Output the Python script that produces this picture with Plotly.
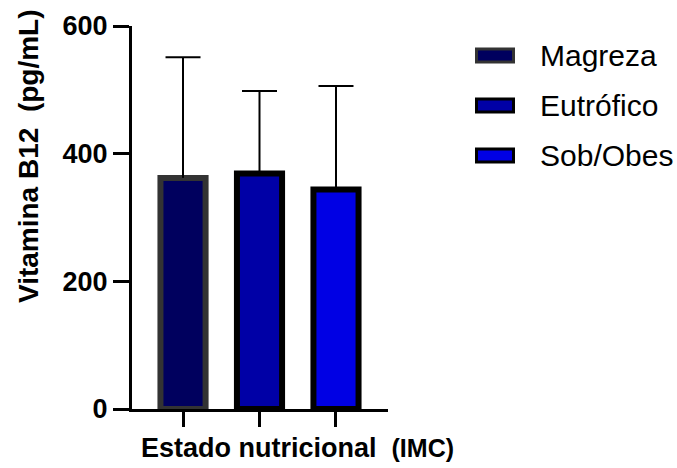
import plotly.graph_objects as go

# Vitamin B12 by nutritional status (mean + SD)
groups = ["Magreza", "Eutrófico", "Sob/Obes"]
means = [362, 369, 344]
sds = [189, 129, 162]

fills = ["#00005e", "#0000a6", "#0000e4"]
edges = ["#333333", "#000000", "#000000"]

FONT = "Arial, Liberation Sans, sans-serif"
W, H = 677, 468
L, R, T, B = 132, 289, 26, 59
pw, ph = W - L - R, H - T - B

fig = go.Figure()
for g, m, s, fc, ec in zip(groups, means, sds, fills, edges):
    # upward-only SD whisker; cap is drawn separately below
    fig.add_trace(go.Bar(
        x=[g], y=[m], name=g, width=0.59,
        marker=dict(color=fc, line=dict(color=ec, width=6)),
        error_y=dict(type="data", array=[s], arrayminus=[0], symmetric=False,
                     thickness=2, width=0, color="black"),
        showlegend=False,
    ))

# whisker caps at mean + SD
fig.add_trace(go.Scatter(
    x=groups, y=[m + s for m, s in zip(means, sds)], mode="markers",
    marker=dict(symbol="line-ew", size=25, line=dict(color="black", width=2)),
    showlegend=False, hoverinfo="skip",
))

# legend swatches and labels
def px_x(v):
    return (v - L) / pw

def px_y(v):
    return (H - B - v) / ph

for i, (g, fc, ec) in enumerate(zip(groups, fills, edges)):
    cy = 55.5 + i * 50
    fig.add_shape(type="rect", xref="paper", yref="paper",
                  x0=px_x(476.5), x1=px_x(513.5), y0=px_y(cy - 6.5), y1=px_y(cy + 6.5),
                  fillcolor=fc, line=dict(color=ec, width=3))
    fig.add_annotation(text=g, xref="paper", yref="paper", x=px_x(538), y=px_y(cy),
                       xanchor="left", yanchor="middle", showarrow=False,
                       font=dict(family=FONT, size=30, color="black"))

# axis titles
fig.add_annotation(text="Vitamina B12  (pg/mL)", xref="paper", yref="paper",
                   x=px_x(28), y=px_y(156), textangle=-90, showarrow=False,
                   xanchor="center", yanchor="middle",
                   font=dict(family=FONT, size=28, color="black", weight="bold"))
fig.add_annotation(text="Estado nutricional  <span style='font-size:25px'>(IMC)</span>",
                   xref="paper", yref="paper", x=px_x(297.5), y=px_y(448),
                   showarrow=False, xanchor="center", yanchor="middle",
                   font=dict(family=FONT, size=27, color="black", weight="bold"))

fig.update_layout(
    width=W, height=H,
    margin=dict(l=L, r=R, t=T, b=B, pad=0),
    paper_bgcolor="white", plot_bgcolor="white",
    barmode="overlay",
    xaxis=dict(type="category", categoryarray=groups, range=[-0.667, 2.68],
               showline=True, linecolor="black", linewidth=3,
               ticks="outside", ticklen=15, tickwidth=3, tickcolor="black",
               showticklabels=False, showgrid=False, zeroline=False),
    yaxis=dict(range=[0, 600], tickvals=[0, 200, 400, 600],
               showline=True, linecolor="black", linewidth=3,
               ticks="outside", ticklen=16, tickwidth=3, tickcolor="black",
               tickfont=dict(family=FONT, size=27, color="black", weight="bold"),
               showgrid=False, zeroline=False),
)

fig.write_html("out.html")
